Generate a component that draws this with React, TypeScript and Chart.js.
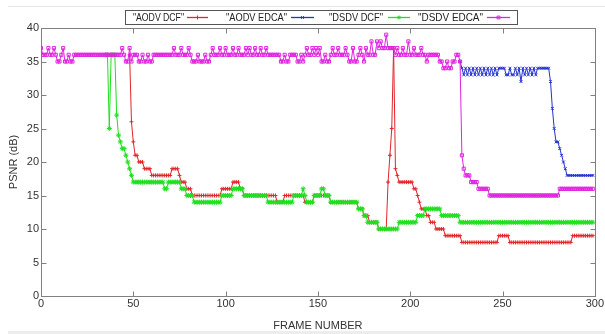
import React, { useEffect, useRef } from 'react';
import { Chart, registerables } from 'chart.js';
import { drawPoint } from 'chart.js/helpers';

Chart.register(...registerables);

// ---------- data ----------
const SERIES_LABELS = ['"AODV DCF"', '"AODV EDCA"', '"DSDV DCF"', '"DSDV EDCA"'];
const X_TICKS = [0, 50, 100, 150, 200, 250, 300];
const Y_TICKS = [0, 5, 10, 15, 20, 25, 30, 35, 40];
const X_TITLE = 'FRAME NUMBER';
const Y_TITLE = 'PSNR (dB)';

// "AODV DCF" (red) — frames 48..299 (earlier frames lie under the magenta band)
const AODV_DCF_START = 48;
const AODV_DCF = [
  36, 26,
  23, 21, 21, 20, 20, 20, 19, 19, 19, 19,
  18, 18, 18, 18, 18, 18, 18, 18, 18, 18,
  18, 19, 19, 19, 19, 18, 17, 17, 17, 16,
  16, 16, 15, 15, 15, 15, 15, 15, 15, 15,
  15, 15, 15, 15, 15, 15, 15, 15, 16, 16,
  16, 16, 16, 16, 17, 17, 17, 17, 16, 16,
  15, 15, 15, 15, 15, 15, 15, 15, 15, 15,
  15, 15, 15, 15, 15, 15, 15, 15, 14, 14,
  14, 14, 15, 15, 15, 15, 15, 15, 15, 15,
  15, 15, 15, 14, 14, 14, 14, 14, 15, 15,
  15, 15, 15, 15, 15, 15, 15, 14, 14, 14,
  14, 14, 14, 14, 14, 14, 14, 14, 14, 14,
  14, 14, 13, 13, 13, 12, 12, 12, 11, 11,
  11, 11, 11, 10, 10, 10, 10, 10, 17, 21,
  25, 37, 19, 18, 17, 17, 17, 17, 17, 17,
  17, 17, 16, 16, 15, 14, 13, 13, 13, 12,
  12, 11, 11, 11, 10, 10, 10, 10, 10, 9,
  9, 9, 9, 9, 9, 9, 9, 9, 8, 8,
  8, 8, 8, 8, 8, 8, 8, 8, 8, 8,
  8, 8, 8, 8, 8, 8, 8, 8, 9, 9,
  9, 9, 9, 9, 8, 8, 8, 8, 8, 8,
  8, 8, 8, 8, 8, 8, 8, 8, 8, 8,
  8, 8, 8, 8, 8, 8, 8, 8, 8, 8,
  8, 8, 8, 8, 8, 8, 8, 8, 9, 9,
  9, 9, 9, 9, 9, 9, 9, 9, 9, 9,
];

// "AODV EDCA" (blue) — frames 227..299
const AODV_EDCA_START = 227;
const AODV_EDCA = [
  35, 34, 33,
  34, 33, 34, 33, 34, 33, 34, 33, 34, 33,
  34, 33, 34, 33, 34, 33, 34, 33, 34, 34,
  34, 34, 33, 33, 34, 33, 33, 34, 33, 34,
  32, 34, 33, 34, 33, 34, 33, 34, 33, 34,
  34, 34, 34, 34, 34, 34, 32, 28, 25, 23,
  23, 22, 21, 20, 19, 18, 18, 18, 18, 18,
  18, 18, 18, 18, 18, 18, 18, 18, 18, 18,
];

// "DSDV DCF" (green) — frames 35..299
const DSDV_DCF_START = 35;
const DSDV_DCF = [
  36, 36, 25, 36, 36,
  36, 27, 24, 23, 22, 22, 21, 20, 19, 18,
  17, 17, 17, 17, 17, 17, 17, 17, 17, 17,
  17, 17, 17, 17, 17, 17, 17, 16, 16, 17,
  17, 17, 17, 17, 17, 17, 16, 16, 16, 15,
  15, 15, 15, 14, 14, 14, 14, 14, 14, 14,
  14, 14, 14, 14, 14, 14, 14, 14, 15, 15,
  15, 15, 15, 15, 16, 16, 16, 16, 16, 16,
  15, 15, 15, 15, 15, 15, 15, 15, 15, 15,
  15, 15, 15, 14, 14, 14, 14, 14, 14, 14,
  14, 14, 14, 14, 14, 14, 14, 15, 15, 15,
  15, 15, 16, 15, 14, 14, 14, 14, 15, 15,
  15, 15, 16, 16, 15, 15, 15, 14, 14, 14,
  14, 14, 14, 14, 14, 14, 14, 14, 14, 14,
  14, 14, 13, 13, 13, 12, 12, 11, 11, 11,
  11, 11, 11, 10, 10, 10, 10, 10, 10, 10,
  10, 10, 10, 10, 11, 11, 11, 11, 11, 11,
  11, 11, 11, 11, 12, 12, 12, 12, 13, 13,
  13, 13, 13, 13, 13, 13, 13, 12, 12, 12,
  12, 12, 12, 12, 12, 12, 12, 11, 11, 11,
  11, 11, 11, 11, 11, 11, 11, 11, 11, 11,
  11, 11, 11, 11, 11, 11, 11, 11, 11, 11,
  11, 11, 11, 11, 11, 11, 11, 11, 11, 11,
  11, 11, 11, 11, 11, 11, 11, 11, 11, 11,
  11, 11, 11, 11, 11, 11, 11, 11, 11, 11,
  11, 11, 11, 11, 11, 11, 11, 11, 11, 11,
  11, 11, 11, 11, 11, 11, 11, 11, 11, 11,
];

// "DSDV EDCA" (magenta) — frames 0..299
const DSDV_EDCA_START = 0;
const DSDV_EDCA = [
  37, 36, 36, 36, 37, 36, 36, 37, 36, 35,
  35, 36, 37, 35, 35, 36, 35, 35, 36, 36,
  36, 36, 36, 36, 36, 36, 36, 36, 36, 36,
  36, 36, 36, 36, 36, 36, 36, 36, 36, 36,
  36, 36, 36, 36, 37, 36, 35, 35, 37, 35,
  36, 36, 36, 35, 35, 36, 35, 35, 36, 35,
  35, 36, 36, 36, 36, 36, 36, 36, 36, 36,
  36, 36, 37, 36, 36, 36, 37, 36, 36, 36,
  37, 36, 35, 35, 35, 36, 35, 35, 35, 36,
  35, 35, 36, 37, 36, 36, 36, 37, 36, 36,
  37, 36, 36, 36, 37, 36, 36, 37, 36, 36,
  36, 37, 36, 37, 36, 36, 37, 36, 36, 37,
  36, 36, 37, 36, 36, 36, 36, 36, 36, 36,
  35, 35, 36, 35, 35, 36, 36, 36, 36, 35,
  35, 36, 35, 36, 37, 36, 36, 37, 36, 37,
  36, 37, 35, 35, 36, 35, 35, 36, 37, 36,
  36, 37, 36, 36, 36, 37, 36, 35, 35, 37,
  35, 35, 36, 37, 36, 35, 37, 36, 36, 38,
  36, 36, 38, 37, 38, 37, 37, 39, 37, 37,
  37, 37, 36, 37, 36, 36, 37, 36, 36, 38,
  36, 36, 37, 36, 36, 36, 37, 36, 36, 35,
  36, 36, 36, 36, 36, 36, 35, 35, 34, 34,
  35, 34, 34, 35, 35, 36, 36, 35, 21, 19,
  18, 18, 18, 17, 17, 17, 17, 16, 16, 16,
  16, 16, 16, 15, 15, 15, 15, 15, 15, 15,
  15, 15, 15, 15, 15, 15, 15, 15, 15, 15,
  15, 15, 15, 15, 15, 15, 15, 15, 15, 15,
  15, 15, 15, 15, 15, 15, 15, 15, 15, 15,
  15, 16, 16, 16, 16, 16, 16, 16, 16, 16,
  16, 16, 16, 16, 16, 16, 16, 16, 16, 16,
];

// ---------- styles / layout ----------
const COLORS = ['#e2262b', '#2433cf', '#1fe01f', '#e024e0'];
const POINT_STYLES = ['cross', 'crossRot', 'star', 'rect'];
const POINT_RADII = [2, 2, 2.5, 2.2];
const DRAW_ORDER = [3, 2, 1, 0]; // magenta on top, as in the reference
const TEXT = '#333333';
const FRAME = '#808080';
const FONT = '"Liberation Sans", Arial, sans-serif';
const LEGEND_FONT = '11px "Liberation Sans", Arial, sans-serif';
const LEGEND_BOX = { left: 125, top: 10, right: 517, bottom: 24 };
// per entry: text start, text end, sample start, sample end (pixels)
const LEGEND_SLOTS = [
  [133, 184, 187, 208],
  [226, 287, 291, 314],
  [329, 383, 388, 410],
  [418, 483, 487, 510],
];
const TICK_LEN = 5;

const gnuplotLook = {
  id: 'gnuplotLook',
  beforeDraw(chart: any) {
    const { ctx, width, height } = chart;
    ctx.save();
    ctx.fillStyle = '#ffffff';
    ctx.fillRect(0, 0, width, height);
    ctx.fillStyle = '#ededed';
    ctx.fillRect(8, height - 3, width - 8, 3);
    ctx.strokeStyle = '#e6e6e6';
    ctx.lineWidth = 1;
    ctx.beginPath();
    ctx.moveTo(8, 6.5);
    ctx.lineTo(width, 6.5);
    ctx.stroke();
    ctx.restore();
  },
  beforeDatasetsDraw(chart: any) {
    const { ctx, chartArea: a, scales } = chart;
    const x = scales.x;
    const y = scales.y;
    const l = Math.round(a.left) + 0.5;
    const r = Math.round(a.right) + 0.5;
    const t = Math.round(a.top) + 0.5;
    const b = Math.round(a.bottom) + 0.5;
    ctx.save();
    ctx.strokeStyle = FRAME;
    ctx.lineWidth = 1;
    ctx.strokeRect(l, t, r - l, b - t);
    ctx.beginPath();
    x.ticks.forEach((tk: any) => {
      const px = Math.round(x.getPixelForValue(tk.value)) + 0.5;
      ctx.moveTo(px, b);
      ctx.lineTo(px, b - TICK_LEN);
      ctx.moveTo(px, t);
      ctx.lineTo(px, t + TICK_LEN);
    });
    y.ticks.forEach((tk: any) => {
      const py = Math.round(y.getPixelForValue(tk.value)) + 0.5;
      ctx.moveTo(l, py);
      ctx.lineTo(l + TICK_LEN, py);
      ctx.moveTo(r, py);
      ctx.lineTo(r - TICK_LEN, py);
    });
    ctx.stroke();
    ctx.restore();
  },
  afterDraw(chart: any) {
    const { ctx } = chart;
    const B = LEGEND_BOX;
    ctx.save();
    ctx.fillStyle = '#ffffff';
    ctx.fillRect(B.left, B.top, B.right - B.left, B.bottom - B.top);
    ctx.strokeStyle = '#555555';
    ctx.lineWidth = 1;
    ctx.strokeRect(B.left + 0.5, B.top + 0.5, B.right - B.left, B.bottom - B.top);
    const cy = (B.top + B.bottom) / 2 + 1;
    SERIES_LABELS.forEach((label, i) => {
      const [t0, t1, s0, s1] = LEGEND_SLOTS[i];
      // text, compressed horizontally to the reference's narrow face
      ctx.save();
      ctx.font = LEGEND_FONT;
      ctx.textAlign = 'left';
      ctx.textBaseline = 'middle';
      ctx.fillStyle = '#222222';
      const w = ctx.measureText(label).width;
      const sx = Math.min(1, (t1 - t0) / w);
      ctx.translate(t0, cy);
      ctx.scale(sx, 1);
      ctx.fillText(label, 0, 0);
      ctx.restore();
      // sample line with its marker
      ctx.save();
      ctx.strokeStyle = COLORS[i];
      ctx.fillStyle = 'rgba(0,0,0,0)';
      ctx.lineWidth = 1.3;
      ctx.beginPath();
      ctx.moveTo(s0, cy - 0.5);
      ctx.lineTo(s1, cy - 0.5);
      ctx.stroke();
      ctx.lineWidth = 1;
      drawPoint(ctx, { pointStyle: POINT_STYLES[i], radius: 2, borderWidth: 1, rotation: 0 } as any, (s0 + s1) / 2, cy - 0.5);
      ctx.restore();
    });
    ctx.restore();
  },
};

const toPoints = (start: number, values: number[]) => values.map((v, i) => ({ x: start + i, y: v }));

export default function App() {
  const ref = useRef<HTMLCanvasElement | null>(null);

  useEffect(() => {
    const canvas = ref.current;
    if (!canvas) return;
    const series = [
      toPoints(AODV_DCF_START, AODV_DCF),
      toPoints(AODV_EDCA_START, AODV_EDCA),
      toPoints(DSDV_DCF_START, DSDV_DCF),
      toPoints(DSDV_EDCA_START, DSDV_EDCA),
    ];
    const chart = new Chart(canvas, {
      type: 'line',
      data: {
        datasets: series.map((data, i) => ({
          label: SERIES_LABELS[i],
          data,
          borderColor: COLORS[i],
          pointBorderColor: COLORS[i],
          pointBackgroundColor: 'rgba(0,0,0,0)',
          pointStyle: POINT_STYLES[i],
          order: DRAW_ORDER[i],
          borderWidth: 1,
          pointRadius: POINT_RADII[i],
          pointHoverRadius: POINT_RADII[i],
          pointBorderWidth: 1,
          tension: 0,
          fill: false,
        })),
      } as any,
      options: {
        responsive: false,
        maintainAspectRatio: false,
        animation: false,
        devicePixelRatio: 1,
        events: [],
        layout: { autoPadding: false, padding: { top: 28, right: 4, left: 0, bottom: 0 } },
        plugins: {
          legend: { display: false },
          tooltip: { enabled: false },
          title: { display: false },
        },
        scales: {
          x: {
            type: 'linear',
            min: X_TICKS[0],
            max: X_TICKS[X_TICKS.length - 1],
            afterBuildTicks: (s: any) => { s.ticks = X_TICKS.map((v) => ({ value: v })); },
            afterFit: (s: any) => { s.height = 38; },
            grid: { display: false, drawTicks: false },
            border: { display: false },
            ticks: { padding: 1, color: TEXT, autoSkip: false, maxRotation: 0, font: { family: FONT, size: 11 } },
            title: { display: true, text: X_TITLE, color: TEXT, font: { family: FONT, size: 11 }, padding: { top: 0, bottom: 1 } },
          },
          y: {
            type: 'linear',
            min: Y_TICKS[0],
            max: Y_TICKS[Y_TICKS.length - 1],
            afterBuildTicks: (s: any) => { s.ticks = Y_TICKS.map((v) => ({ value: v })); },
            afterFit: (s: any) => { s.width = 41; },
            grid: { display: false, drawTicks: false },
            border: { display: false },
            ticks: { padding: 2, color: TEXT, autoSkip: false, font: { family: FONT, size: 11 } },
            title: { display: true, text: Y_TITLE, color: TEXT, font: { family: FONT, size: 11 }, padding: { top: 7, bottom: 0 } },
          },
        },
      } as any,
      plugins: [gnuplotLook],
    });
    return () => chart.destroy();
  }, []);

  return (
    <div style={{ position: 'fixed', left: 0, top: 0, width: 605, height: 334, background: '#ffffff' }}>
      <canvas ref={ref} width={605} height={334} style={{ display: 'block', width: 605, height: 334 }} />
    </div>
  );
}
